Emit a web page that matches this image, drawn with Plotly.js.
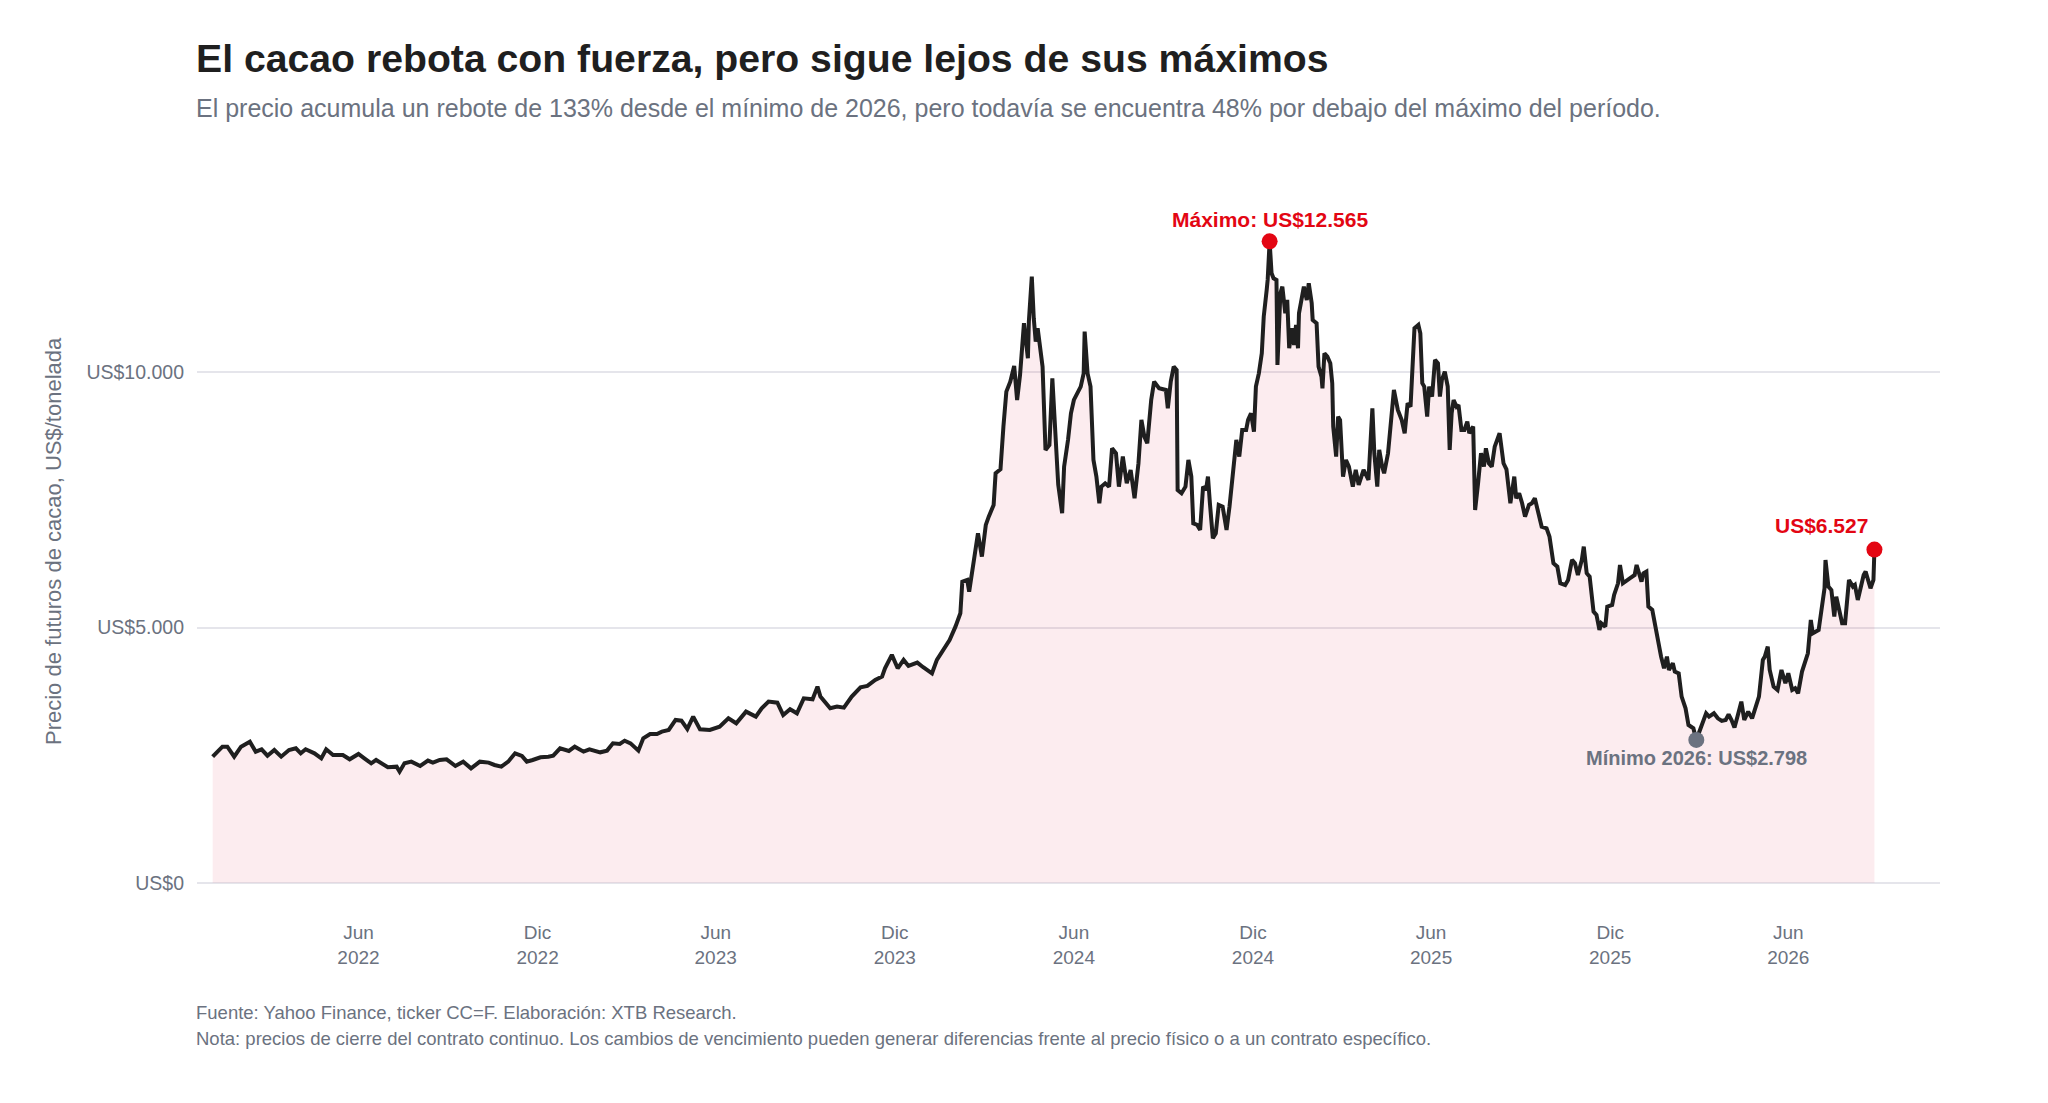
<!DOCTYPE html>
<html>
<head>
<meta charset="utf-8">
<script src="https://cdn.plot.ly/plotly-3.0.1.min.js"></script>
<style>
  html, body { margin: 0; padding: 0; background: #ffffff; }
  #chart { width: 2048px; height: 1103px; }
</style>
</head>
<body>
<div id="chart"></div>
<script>
// cierres (CC=F), agrupados por año: fecha MM-DD y precio US$/t
const dias2022 = ['01-03','01-08','01-13','01-18','01-25','02-01','02-10','02-16','02-22','02-28',
  '03-07','03-14','03-22','03-29','04-03','04-08','04-17','04-24','04-29','05-06','05-16','05-23',
  '06-01','06-07','06-14','06-19','06-24','07-01','07-10','07-13','07-18','07-25','08-03','08-11',
  '08-16','08-23','08-30','09-08','09-16','09-24','10-03','10-12','10-18','10-25','11-01','11-08',
  '11-15','11-20','11-26','12-04','12-12','12-17','12-24']
const precios2022 = [2471,2569,2667,2667,2471,2667,2765,2569,2615,2490,
  2602,2471,2602,2634,2536,2615,2536,2438,2615,2504,2504,2419,
  2523,2438,2340,2406,2354,2262,2275,2177,2340,2373,2288,2393,
  2354,2406,2419,2288,2373,2242,2373,2354,2308,2275,2373,2536,
  2484,2373,2406,2458,2471,2490,2634]

const dias2023 = ['01-02','01-08','01-17','01-23','02-03','02-10','02-16','02-23','02-28','03-06',
  '03-14','03-19','03-26','04-02','04-07','04-14','04-21','04-27','05-03','05-09','05-16','05-26',
  '06-05','06-14','06-22','07-02','07-12','07-18','07-25','08-03','08-09','08-16','08-23','08-30',
  '09-08','09-13','09-16','09-26','10-03','10-10','10-18','10-27','11-03','11-11','11-18','11-21',
  '11-28','12-04','12-10','12-15','12-24','12-30']
const precios2023 = [2582,2667,2569,2615,2556,2589,2732,2719,2784,2732,
  2589,2830,2915,2915,2961,2993,3189,3176,3013,3255,3006,2993,
  3059,3222,3124,3353,3255,3418,3549,3529,3287,3399,3320,3614,
  3595,3843,3647,3418,3451,3431,3647,3830,3856,3974,4039,4202,
  4464,4202,4366,4248,4313,4222]

const dias2024 = ['01-08','01-13','01-20','01-26','02-01','02-06','02-08','02-13','02-15','02-19',
  '02-24','02-28','03-03','03-06','03-11','03-13','03-18','03-21','03-24','03-28','04-01','04-04',
  '04-07','04-11','04-15','04-16','04-19','04-21','04-23','04-25','04-30','05-03','05-07','05-10',
  '05-14','05-16','05-20','05-22','05-26','05-29','06-01','06-05','06-08','06-11','06-12','06-15',
  '06-18','06-21','06-24','06-27','06-29','07-03','07-07','07-10','07-14','07-17','07-21','07-25',
  '07-29','08-02','08-06','08-09','08-12','08-15','08-19','08-22','08-27','09-03','09-05','09-08',
  '09-11','09-14','09-15','09-19','09-23','09-26','09-29','10-01','10-05','10-08','10-11','10-14',
  '10-16','10-18','10-21','10-24','10-27','10-31','11-04','11-07','11-11','11-14','11-17','11-20',
  '11-24','11-26','11-29','12-02','12-04','12-07','12-10','12-12','12-15','12-16','12-18','12-20',
  '12-22','12-25','12-26','12-29','12-31']
const precios2024 = [4104,4366,4561,4756,5017,5279,5898,5932,5703,6193,
  6847,6389,7010,7172,7401,8022,8100,8935,9621,9817,10124,9458,
  9950,10961,10275,10992,11874,11059,10600,10862,10110,8479,8577,9883,
  8600,7800,7238,8152,8675,9197,9458,9589,9720,9980,10797,9980,
  9720,8283,7957,7434,7760,7826,7760,8511,8413,7760,8348,7826,
  8087,7532,8218,9066,8740,8610,9458,9817,9687,9654,9295,9817,
  10111,10046,7695,7630,7760,8283,7957,7042,7010,6912,7760,7695,
  7957,7434,6749,6847,7401,7368,6912,7368,8218,8675,8348,8871,
  8871,9066,9197,8838,9720,9980,10373,11090,11613,11809,12565,11940,
  11842,11809,10143,11548,11678]

const dias2025 = ['01-03','01-05','01-07','01-10','01-12','01-14','01-16','01-17','01-20','01-22',
  '01-25','01-27','01-30','01-31','02-04','02-06','02-09','02-10','02-12','02-15','02-18','02-20',
  '02-21','02-24','02-26','02-28','03-03','03-06','03-09','03-13','03-16','03-19','03-24','03-29',
  '04-02','04-04','04-07','04-09','04-12','04-14','04-18','04-20','04-22','04-24','04-28','05-02',
  '05-05','05-08','05-11','05-13','05-15','05-19','05-21','05-23','05-25','05-28','05-30','06-02',
  '06-05','06-08','06-10','06-12','06-15','06-18','06-20','06-22','06-24','06-27','06-29','07-02',
  '07-05','07-08','07-10','07-14','07-16','07-19','07-22','07-25','07-27','07-30','08-02','08-05',
  '08-07','08-10','08-14','08-17','08-21','08-25','08-27','08-30','09-02','09-05','09-09','09-12',
  '09-15','09-19','09-22','09-27','09-30','10-04','10-08','10-11','10-16','10-19','10-23','10-26',
  '10-29','11-02','11-04','11-07','11-10','11-14','11-17','11-20','11-22','11-26','11-28','12-03',
  '12-05','12-09','12-11','12-14','12-18','12-21','12-26','12-28']
const precios2025 = [11156,11417,10471,10862,10536,10928,10471,11156,11417,11678,
  11417,11744,11352,11025,10960,10111,9915,9687,10373,10307,10177,9785,
  8936,8348,9131,9066,7957,8283,8152,7760,8087,7793,8087,7891,
  9295,8413,7760,8479,8152,8022,8413,8806,9262,9654,9262,9066,
  8806,9393,9327,10177,10862,10928,10765,9785,9720,9131,9720,9523,
  10242,10177,9523,9850,10013,9720,8479,9197,9458,9327,9360,8871,
  8871,9033,8806,8936,7303,7826,8413,8152,8511,8218,8152,8544,
  8675,8806,8218,8100,7434,7956,7531,7629,7434,7172,7401,7434,
  7531,7238,6976,6944,6780,6259,6193,5867,5834,5932,6324,6259,
  6030,6324,6585,6063,5997,5312,5247,4952,5082,5017,5410,5443,
  5638,5867,6226,5867,5932,5965,6030,6226]

const dias2026 = ['01-02','01-04','01-07','01-09','01-13','01-16','01-19','01-22','01-25','01-28',
  '01-30','02-03','02-05','02-09','02-12','02-16','02-19','02-24','02-27','03-05','03-09','03-12',
  '03-17','03-21','03-25','03-29','04-01','04-04','04-07','04-10','04-14','04-17','04-21','04-25',
  '04-28','05-02','05-06','05-08','05-11','05-13','05-17','05-21','05-25','05-29','06-01','06-05',
  '06-08','06-11','06-15','06-18','06-21','06-24','06-26','07-02','07-05','07-08','07-09','07-12',
  '07-15','07-18','07-20','07-23','07-26','07-29','08-02','08-06','08-08','08-11','08-13','08-17',
  '08-19','08-22','08-24','08-27','08-28']
const precios2026 = [5899,6063,6096,5410,5345,5017,4756,4430,4202,4430,
  4169,4300,4136,4104,3646,3417,3091,3026,2798,3124,3320,3254,
  3320,3222,3170,3189,3300,3189,3040,3254,3548,3189,3352,3222,
  3385,3646,4365,4430,4626,4169,3842,3777,4169,3908,4104,3777,
  3810,3712,4137,4300,4496,5148,4888,4953,5344,5769,6324,5802,
  5736,5214,5606,5344,5083,5083,5932,5802,5834,5540,5736,6030,
  6095,5867,5769,5932,6527]

const ticksFecha = ['2022-06-01','2022-12-01','2023-06-01','2023-12-01','2024-06-01',
  '2024-12-01','2025-06-01','2025-12-01','2026-06-01']
const ticksTexto = ['Jun<br>2022','Dic<br>2022','Jun<br>2023','Dic<br>2023','Jun<br>2024',
  'Dic<br>2024','Jun<br>2025','Dic<br>2025','Jun<br>2026']
const ticksPrecio = [0, 5000, 10000]
const ticksPrecioTexto = ['US$0', 'US$5.000', 'US$10.000']

const ROJO = '#e30613'
const GRIS = '#6b7280'

const porAnio = [
  ['2022', dias2022, precios2022],
  ['2023', dias2023, precios2023],
  ['2024', dias2024, precios2024],
  ['2025', dias2025, precios2025],
  ['2026', dias2026, precios2026],
]
const fechas = []
const precios = []
for (const [anio, dias, vals] of porAnio) {
  dias.forEach((d, i) => {
    fechas.push(`${anio}-${d}`)
    precios.push(vals[i])
  })
}

const fmt = v => 'US$' + v.toLocaleString('de-DE')

const maxValor = Math.max(...precios)
const iMax = precios.indexOf(maxValor)
const minValor = Math.min(...precios2026)
const iMin = fechas.indexOf('2026-' + dias2026[precios2026.indexOf(minValor)])
const iUlt = precios.length - 1

const traceLinea = {
  x: fechas,
  y: precios,
  type: 'scatter',
  mode: 'lines',
  line: { color: '#1f1f1f', width: 4 },
  fill: 'tozeroy',
  fillcolor: 'rgba(225, 29, 72, 0.085)',
  hoverinfo: 'x+y',
  showlegend: false
}

const tracePuntos = {
  x: [fechas[iMax], fechas[iMin], fechas[iUlt]],
  y: [precios[iMax], precios[iMin], precios[iUlt]],
  type: 'scatter',
  mode: 'markers',
  marker: { color: [ROJO, GRIS, ROJO], size: 16 },
  hoverinfo: 'none',
  showlegend: false
}

// el area de trazado va de y=215 a y=905 px
const pyPaper = px => (905 - px) / 690
const pxPaper = px => (px - 197) / (2048 - 197 - 108)

const layout = {
  width: 2048,
  height: 1103,
  paper_bgcolor: '#ffffff',
  plot_bgcolor: '#ffffff',
  font: { family: 'Liberation Sans, Arial, sans-serif', color: GRIS },
  margin: { l: 197, r: 108, t: 215, b: 198 },
  showlegend: false,
  xaxis: {
    type: 'date',
    range: ['2021-12-18', '2026-11-03'],
    tickvals: ticksFecha,
    ticktext: ticksTexto,
    tickfont: { size: 19, color: GRIS },
    showgrid: false,
    zeroline: false,
    showline: false,
    ticks: 'outside',
    ticklen: 10,
    tickcolor: 'rgba(0,0,0,0)'
  },
  yaxis: {
    range: [-435, 13081],
    tickvals: ticksPrecio,
    ticktext: ticksPrecioTexto,
    tickfont: { size: 19.5, color: GRIS },
    showgrid: true,
    gridcolor: '#e5e5eb',
    gridwidth: 2,
    zeroline: false,
    showline: false,
    ticklabelstandoff: 12
  },
  annotations: [
    {
      xref: 'paper', yref: 'paper', x: 0, y: pyPaper(59), xshift: -3,
      xanchor: 'left', yanchor: 'middle', showarrow: false,
      text: '<b>El cacao rebota con fuerza, pero sigue lejos de sus máximos</b>',
      font: { size: 39.2, color: '#1f1f1f' }
    },
    {
      xref: 'paper', yref: 'paper', x: 0, y: pyPaper(108), xshift: -3,
      xanchor: 'left', yanchor: 'middle', showarrow: false,
      text: 'El precio acumula un rebote de 133% desde el mínimo de 2026, pero todavía se encuentra 48% por debajo del máximo del período.',
      font: { size: 25, color: GRIS }
    },
    {
      xref: 'paper', yref: 'paper', x: pxPaper(53), y: 0.5275,
      xanchor: 'center', yanchor: 'middle', showarrow: false, textangle: -90,
      text: 'Precio de futuros de cacao, US$/tonelada',
      font: { size: 22, color: GRIS }
    },
    {
      xref: 'paper', yref: 'paper', x: 0, y: pyPaper(1012), xshift: -3,
      xanchor: 'left', yanchor: 'middle', showarrow: false,
      text: 'Fuente: Yahoo Finance, ticker CC=F. Elaboración: XTB Research.',
      font: { size: 18.5, color: GRIS }
    },
    {
      xref: 'paper', yref: 'paper', x: 0, y: pyPaper(1038), xshift: -3,
      xanchor: 'left', yanchor: 'middle', showarrow: false,
      text: 'Nota: precios de cierre del contrato continuo. Los cambios de vencimiento pueden generar diferencias frente al precio físico o a un contrato específico.',
      font: { size: 18.5, color: GRIS }
    },
    {
      x: fechas[iMax], y: precios[iMax], showarrow: false,
      xanchor: 'center', yanchor: 'middle', yshift: 22,
      text: '<b>Máximo: ' + fmt(maxValor) + '</b>',
      font: { size: 21, color: ROJO }
    },
    {
      x: fechas[iMin], y: precios[iMin], showarrow: false,
      xanchor: 'center', yanchor: 'middle', yshift: -18,
      text: '<b>Mínimo 2026: ' + fmt(minValor) + '</b>',
      font: { size: 20, color: GRIS }
    },
    {
      x: fechas[iUlt], y: precios[iUlt], showarrow: false,
      xanchor: 'right', yanchor: 'middle', xshift: -4, yshift: 24,
      text: '<b>' + fmt(precios[iUlt]) + '</b>',
      font: { size: 21, color: ROJO }
    }
  ]
}

const config = {
  displayModeBar: false,
  responsive: false
}

Plotly.newPlot('chart', [traceLinea, tracePuntos], layout, config)
</script>
</body>
</html>
